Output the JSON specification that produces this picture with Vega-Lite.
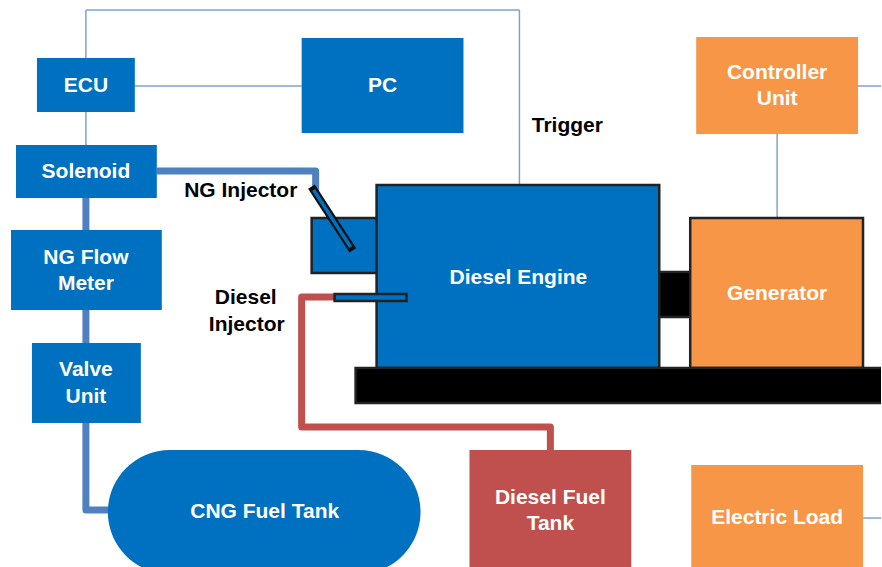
{
  "$schema": "https://vega.github.io/schema/vega-lite/v6.json",
  "width": 882,
  "height": 567,
  "autosize": {"type": "fit", "contains": "padding"},
  "padding": 0,
  "background": "white",
  "config": {"view": {"stroke": null}},
  "datasets": {
    "thin": [
      {"x": 86, "y": 58, "x2": 86, "y2": 10},
      {"x": 86, "y": 10, "x2": 520, "y2": 10},
      {"x": 520, "y": 10, "x2": 520, "y2": 185},
      {"x": 135, "y": 86, "x2": 302, "y2": 86},
      {"x": 86, "y": 112, "x2": 86, "y2": 145},
      {"x": 778, "y": 134, "x2": 778, "y2": 218},
      {"x": 859, "y": 86, "x2": 882, "y2": 86},
      {"x": 864, "y": 518, "x2": 882, "y2": 518}
    ],
    "pipes": [
      {"pipe": "ng1", "kind": "gas", "o": 1, "x": 157, "y": 171},
      {"pipe": "ng1", "kind": "gas", "o": 2, "x": 316, "y": 171},
      {"pipe": "ng1", "kind": "gas", "o": 3, "x": 316, "y": 191},
      {"pipe": "ng2", "kind": "gas", "o": 1, "x": 86, "y": 198},
      {"pipe": "ng2", "kind": "gas", "o": 2, "x": 86, "y": 230},
      {"pipe": "ng3", "kind": "gas", "o": 1, "x": 86, "y": 310},
      {"pipe": "ng3", "kind": "gas", "o": 2, "x": 86, "y": 343},
      {"pipe": "ng4", "kind": "gas", "o": 1, "x": 86, "y": 423},
      {"pipe": "ng4", "kind": "gas", "o": 2, "x": 86, "y": 510},
      {"pipe": "ng4", "kind": "gas", "o": 3, "x": 112, "y": 510},
      {"pipe": "ds", "kind": "diesel", "o": 1, "x": 337, "y": 297},
      {"pipe": "ds", "kind": "diesel", "o": 2, "x": 302, "y": 297},
      {"pipe": "ds", "kind": "diesel", "o": 3, "x": 302, "y": 427},
      {"pipe": "ds", "kind": "diesel", "o": 4, "x": 551, "y": 427},
      {"pipe": "ds", "kind": "diesel", "o": 5, "x": 551, "y": 451}
    ],
    "boxes": [
      {"name": "ECU", "kind": "blue", "x": 37, "x2": 135, "y": 58, "y2": 112},
      {"name": "PC", "kind": "blue", "x": 302, "x2": 464, "y": 38, "y2": 133},
      {"name": "Solenoid", "kind": "blue", "x": 16, "x2": 157, "y": 145, "y2": 198},
      {"name": "NG Flow Meter", "kind": "blue", "x": 11, "x2": 162, "y": 230, "y2": 310},
      {"name": "Valve Unit", "kind": "blue", "x": 32, "x2": 141, "y": 343, "y2": 423},
      {"name": "Controller Unit", "kind": "orange", "x": 697, "x2": 859, "y": 37, "y2": 134},
      {"name": "Diesel Fuel Tank", "kind": "red", "x": 470, "x2": 632, "y": 450, "y2": 600},
      {"name": "Electric Load", "kind": "orange", "x": 692, "x2": 864, "y": 465, "y2": 600}
    ],
    "tank": [
      {"name": "CNG Fuel Tank", "kind": "blue", "x": 108, "x2": 421, "y": 450, "y2": 574}
    ],
    "engine": [
      {"name": "intake", "kind": "blue", "x": 312, "x2": 378, "y": 218, "y2": 273},
      {"name": "coupling", "kind": "black", "x": 658, "x2": 692, "y": 272, "y2": 317},
      {"name": "Diesel Engine", "kind": "blue", "x": 377, "x2": 660, "y": 185, "y2": 368},
      {"name": "Generator", "kind": "orange", "x": 691, "x2": 864, "y": 218, "y2": 368},
      {"name": "base", "kind": "black", "x": 356, "x2": 890, "y": 368, "y2": 403},
      {"name": "Diesel Injector", "kind": "blue", "x": 335, "x2": 407, "y": 294, "y2": 301}
    ],
    "injector": [
      {"x": 314, "y": 190, "x2": 351, "y2": 247}
    ],
    "whiteText": [
      {"t": "ECU", "x": 86, "y": 86},
      {"t": "PC", "x": 383, "y": 86},
      {"t": "Solenoid", "x": 86, "y": 172},
      {"t": "NG Flow", "x": 86, "y": 258},
      {"t": "Meter", "x": 86, "y": 284},
      {"t": "Valve", "x": 86, "y": 370},
      {"t": "Unit", "x": 86, "y": 397},
      {"t": "CNG Fuel Tank", "x": 265, "y": 512},
      {"t": "Diesel Engine", "x": 519, "y": 278},
      {"t": "Generator", "x": 778, "y": 294},
      {"t": "Controller", "x": 778, "y": 73},
      {"t": "Unit", "x": 778, "y": 99},
      {"t": "Diesel Fuel", "x": 551, "y": 498},
      {"t": "Tank", "x": 551, "y": 524},
      {"t": "Electric Load", "x": 778, "y": 518}
    ],
    "blackText": [
      {"t": "Trigger", "x": 568, "y": 126},
      {"t": "NG Injector", "x": 241, "y": 191},
      {"t": "Diesel", "x": 246, "y": 298},
      {"t": "Injector", "x": 247, "y": 325}
    ]
  },
  "layer": [
    {
      "data": {"name": "thin"},
      "mark": {"type": "rule", "color": "#7ba2d6", "strokeWidth": 1.5},
      "encoding": {
        "x": {"field": "x", "type": "quantitative", "scale": {"domain": [0, 882], "nice": false, "zero": false}, "axis": null},
        "y": {"field": "y", "type": "quantitative", "scale": {"domain": [0, 567], "nice": false, "zero": false, "reverse": true}, "axis": null},
        "x2": {"field": "x2"},
        "y2": {"field": "y2"}
      }
    },
    {
      "data": {"name": "pipes"},
      "mark": {"type": "line", "strokeWidth": 7, "strokeJoin": "round", "strokeCap": "butt"},
      "encoding": {
        "x": {"field": "x", "type": "quantitative"},
        "y": {"field": "y", "type": "quantitative"},
        "detail": {"field": "pipe"},
        "order": {"field": "o", "type": "quantitative"},
        "color": {"field": "kind", "type": "nominal", "scale": {"domain": ["gas", "diesel"], "range": ["#4f80bf", "#c0504d"]}, "legend": null}
      }
    },
    {
      "data": {"name": "boxes"},
      "mark": {"type": "rect", "clip": true},
      "encoding": {
        "x": {"field": "x", "type": "quantitative"},
        "x2": {"field": "x2"},
        "y": {"field": "y", "type": "quantitative"},
        "y2": {"field": "y2"},
        "fill": {"field": "kind", "type": "nominal", "scale": {"domain": ["blue", "orange", "red", "black"], "range": ["#0070c0", "#f79646", "#c0504d", "#000000"]}, "legend": null}
      }
    },
    {
      "data": {"name": "tank"},
      "mark": {"type": "rect", "clip": true, "cornerRadius": 62},
      "encoding": {
        "x": {"field": "x", "type": "quantitative"},
        "x2": {"field": "x2"},
        "y": {"field": "y", "type": "quantitative"},
        "y2": {"field": "y2"},
        "fill": {"field": "kind", "type": "nominal", "legend": null}
      }
    },
    {
      "data": {"name": "engine"},
      "mark": {"type": "rect", "clip": true, "stroke": "#222222", "strokeWidth": 2.5},
      "encoding": {
        "x": {"field": "x", "type": "quantitative"},
        "x2": {"field": "x2"},
        "y": {"field": "y", "type": "quantitative"},
        "y2": {"field": "y2"},
        "fill": {"field": "kind", "type": "nominal", "legend": null}
      }
    },
    {
      "data": {"name": "injector"},
      "mark": {"type": "rule", "color": "#111111", "strokeWidth": 8, "strokeCap": "square"},
      "encoding": {
        "x": {"field": "x", "type": "quantitative"},
        "y": {"field": "y", "type": "quantitative"},
        "x2": {"field": "x2"},
        "y2": {"field": "y2"}
      }
    },
    {
      "data": {"name": "injector"},
      "mark": {"type": "rule", "color": "#0070c0", "strokeWidth": 3.5, "strokeCap": "butt"},
      "encoding": {
        "x": {"field": "x", "type": "quantitative"},
        "y": {"field": "y", "type": "quantitative"},
        "x2": {"field": "x2"},
        "y2": {"field": "y2"}
      }
    },
    {
      "data": {"name": "whiteText"},
      "mark": {"type": "text", "color": "white", "font": "Liberation Sans", "fontWeight": "bold", "fontSize": 21, "align": "center", "baseline": "middle"},
      "encoding": {
        "x": {"field": "x", "type": "quantitative"},
        "y": {"field": "y", "type": "quantitative"},
        "text": {"field": "t"}
      }
    },
    {
      "data": {"name": "blackText"},
      "mark": {"type": "text", "color": "black", "font": "Liberation Sans", "fontWeight": "bold", "fontSize": 21, "align": "center", "baseline": "middle"},
      "encoding": {
        "x": {"field": "x", "type": "quantitative"},
        "y": {"field": "y", "type": "quantitative"},
        "text": {"field": "t"}
      }
    }
  ]
}
